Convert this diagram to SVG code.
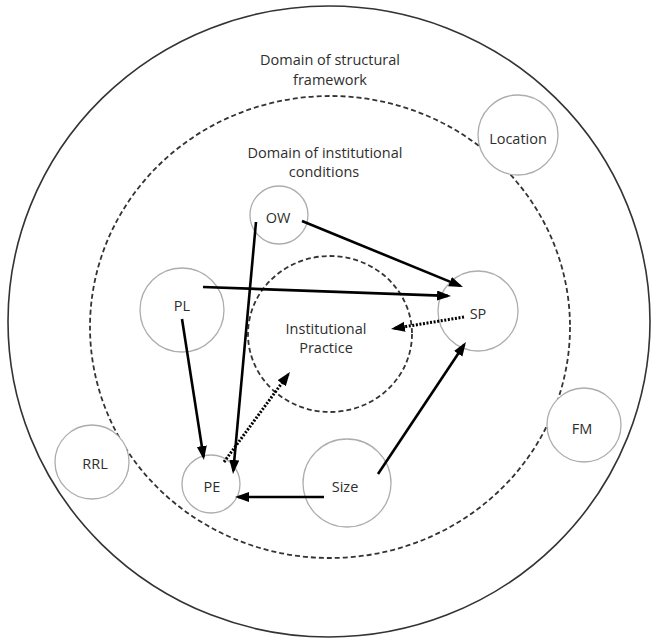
<svg xmlns="http://www.w3.org/2000/svg" width="651" height="638" viewBox="0 0 651 638">
  <style>
    .domain { fill: none; stroke: #333; stroke-width: 1.6; }
    .dash { stroke-dasharray: 5 3; stroke-width: 1.8; }
    .node { fill: #fff; stroke: #adadad; stroke-width: 1.3; }
    text { font-family: "Open Sans", "Noto Sans", "Liberation Sans", sans-serif; font-size: 14.5px; fill: #2e2e2e; text-anchor: middle; }
    .link { stroke: #000; stroke-width: 2.6; fill: none; marker-end: url(#head); }
    .dotted { stroke-dasharray: 2 1.6; stroke-width: 3; }
  </style>
  <defs>
    <marker id="head" markerUnits="userSpaceOnUse" markerWidth="16" markerHeight="12" refX="11" refY="5" orient="auto">
      <path d="M0,0 L14,5 L0,10 z" fill="#000"/>
    </marker>
  </defs>
  <rect width="651" height="638" fill="#fff"/>

  <!-- nested domains -->
  <g id="structural-framework">
    <ellipse class="domain" cx="329" cy="321.5" rx="321" ry="315.5"/>
    <text x="330" y="65">Domain of structural</text>
    <text x="330" y="85">framework</text>
  </g>
  <g id="institutional-conditions">
    <ellipse class="domain dash" cx="330" cy="327" rx="240" ry="231"/>
    <text x="325" y="158">Domain of institutional</text>
    <text x="324" y="177">conditions</text>
  </g>
  <g id="institutional-practice">
    <ellipse class="domain dash" cx="330" cy="334" rx="82" ry="78"/>
    <text x="326" y="334">Institutional</text>
    <text x="326" y="353">Practice</text>
  </g>

  <!-- factor nodes -->
  <g id="location"><circle class="node" cx="518" cy="135" r="40"/><text x="518" y="144">Location</text></g>
  <g id="ow"><circle class="node" cx="279" cy="215" r="29"/><text x="278" y="223">OW</text></g>
  <g id="pl"><circle class="node" cx="182" cy="310" r="42"/><text x="182" y="311">PL</text></g>
  <g id="sp"><circle class="node" cx="478" cy="311" r="40"/><text x="478" y="319">SP</text></g>
  <g id="rrl"><circle class="node" cx="92" cy="462" r="37"/><text x="95" y="469">RRL</text></g>
  <g id="fm"><circle class="node" cx="584" cy="425" r="37"/><text x="582" y="434">FM</text></g>
  <g id="pe"><circle class="node" cx="211" cy="484" r="29"/><text x="212" y="492">PE</text></g>
  <g id="size"><circle class="node" cx="347" cy="483" r="44"/><text x="345" y="492">Size</text></g>

  <!-- connectors -->
  <g id="connectors">
    <line class="link" x1="302" y1="221" x2="460.2" y2="285.9"/>
    <line class="link" x1="203" y1="287" x2="448" y2="295.9"/>
    <line class="link" x1="256" y1="222" x2="233.3" y2="471"/>
    <line class="link" x1="182" y1="319" x2="203.5" y2="457"/>
    <line class="link" x1="324" y1="497" x2="238" y2="497"/>
    <line class="link" x1="378" y1="474" x2="464.3" y2="344.5"/>
    <line class="link dotted" x1="464" y1="317" x2="394" y2="328.5"/>
    <line class="link dotted" x1="224" y1="462" x2="288.2" y2="374.4"/>
  </g>
</svg>
